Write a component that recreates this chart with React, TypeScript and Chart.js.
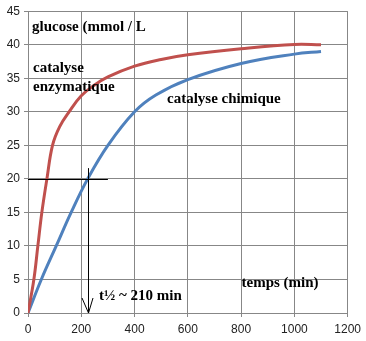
import React, { useEffect, useRef } from "react";
import { Chart, registerables } from "chart.js";

Chart.register(...registerables);

// Enzymatic catalysis (red)
const timeEnz = [0, 22, 37, 52, 71, 92, 119, 156, 200, 250, 300, 400, 500, 600, 800, 1000, 1100];
const glucoseEnz = [0, 5, 10, 15, 20, 25, 27.8, 30.1, 32.4, 34.0, 35.2, 36.8, 37.8, 38.5, 39.4, 40.05, 40.0];

// Chemical catalysis (blue)
const timeChim = [0, 50, 106, 162, 224, 300, 400, 480, 600, 800, 1000, 1100];
const glucoseChim = [0, 5, 10, 15, 20, 25, 30, 32.5, 34.8, 37.2, 38.6, 39.0];

const xTicks = [0, 200, 400, 600, 800, 1000, 1200];
const yTicks = [0, 5, 10, 15, 20, 25, 30, 35, 40, 45];

// half-time annotation
const halfGlucose = 20;
const halfTime = 226;
const halfLineEnd = 300;
const halfLineTop = 21.6;

const labels = [
  { text: "glucose (mmol / L", x: 32, y: 30.5 },
  { text: "catalyse", x: 33, y: 72 },
  { text: "enzymatique", x: 33, y: 91 },
  { text: "catalyse chimique", x: 167, y: 103 },
  { text: "t½ ~ 210 min", x: 99, y: 300 },
  { text: "temps (min)", x: 241.5, y: 287 },
];

const annotPlugin = {
  id: "annot",
  afterDatasetsDraw(chart: any) {
    const { ctx, scales } = chart;
    const xs = scales.x;
    const ys = scales.y;
    ctx.save();
    ctx.strokeStyle = "#000";
    ctx.lineWidth = 1;
    const yh = Math.round(ys.getPixelForValue(halfGlucose)) + 0.5;
    ctx.beginPath();
    ctx.moveTo(xs.getPixelForValue(0), yh);
    ctx.lineTo(xs.getPixelForValue(halfLineEnd), yh);
    ctx.stroke();
    const xv = Math.round(xs.getPixelForValue(halfTime)) + 0.5;
    const yTop = ys.getPixelForValue(halfLineTop);
    const yBot = ys.getPixelForValue(0);
    ctx.beginPath();
    ctx.moveTo(xv, yTop);
    ctx.lineTo(xv, yBot);
    ctx.stroke();
    ctx.beginPath();
    ctx.moveTo(xv - 6.5, yBot - 15);
    ctx.lineTo(xv, yBot);
    ctx.lineTo(xv + 4.5, yBot - 15);
    ctx.stroke();
    ctx.fillStyle = "#000";
    ctx.font = "bold 15px 'Liberation Serif', 'Times New Roman', serif";
    ctx.textAlign = "left";
    ctx.textBaseline = "alphabetic";
    for (const l of labels) ctx.fillText(l.text, l.x, l.y);
    ctx.restore();
  },
};

export default function App() {
  const ref = useRef<HTMLCanvasElement>(null);
  useEffect(() => {
    if (!ref.current) return;
    const chart = new Chart(ref.current, {
      type: "line",
      data: {
        datasets: [
          {
            label: "catalyse enzymatique",
            data: timeEnz.map((t, i) => ({ x: t, y: glucoseEnz[i] })),
            borderColor: "#C0504D",
            borderWidth: 3,
            pointRadius: 0,
            tension: 0.4,
            fill: false,
          },
          {
            label: "catalyse chimique",
            data: timeChim.map((t, i) => ({ x: t, y: glucoseChim[i] })),
            borderColor: "#4F81BD",
            borderWidth: 3,
            pointRadius: 0,
            tension: 0.4,
            fill: false,
          },
        ],
      },
      options: {
        responsive: false,
        animation: false,
        layout: { padding: { top: 9, right: 18, left: 0, bottom: 0 } },
        plugins: { legend: { display: false }, tooltip: { enabled: false } },
        scales: {
          x: {
            type: "linear",
            min: 0,
            max: 1200,
            afterBuildTicks: (s: any) => {
              s.ticks = xTicks.map((v) => ({ value: v }));
            },
            afterFit: (s: any) => {
              s.height = 28;
            },
            grid: { color: "#878787", tickLength: 4, lineWidth: 1 },
            border: { color: "#878787" },
            ticks: {
              color: "#222",
              padding: 5,
              maxRotation: 0,
              callback: (v: any) => String(v),
              font: { family: "'Liberation Sans', Arial, sans-serif", size: 12 },
            },
          },
          y: {
            type: "linear",
            min: 0,
            max: 45,
            afterBuildTicks: (s: any) => {
              s.ticks = yTicks.map((v) => ({ value: v }));
            },
            afterFit: (s: any) => {
              s.width = 28;
            },
            grid: { color: "#878787", tickLength: 4, lineWidth: 1 },
            border: { color: "#878787" },
            ticks: {
              color: "#222",
              padding: 4,
              callback: (v: any) => String(v),
              font: { family: "'Liberation Sans', Arial, sans-serif", size: 12 },
            },
          },
        },
      },
      plugins: [annotPlugin],
    } as any);
    return () => chart.destroy();
  }, []);
  return (
    <div style={{ position: "fixed", left: 0, top: 0, width: 366, height: 341, background: "#fff" }}>
      <canvas ref={ref} width={366} height={341} style={{ display: "block" }} />
    </div>
  );
}
